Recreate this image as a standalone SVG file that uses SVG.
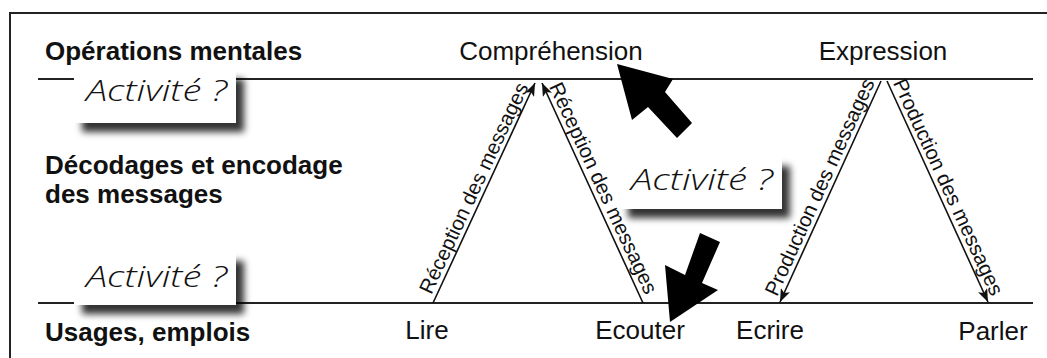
<svg xmlns="http://www.w3.org/2000/svg" width="1047" height="358" viewBox="0 0 1047 358">
<style>
.bold{font-family:"Liberation Sans",Arial,sans-serif;font-weight:bold;font-size:26px;fill:#111}
.term{font-family:"Liberation Sans",Arial,sans-serif;font-size:26px;fill:#111}
.lbl{font-family:"Liberation Sans",Arial,sans-serif;font-size:20.5px;fill:#111}
.hand{font-family:"Open Sans","DejaVu Sans",sans-serif;font-style:italic;font-weight:300;font-size:29px;fill:#111}
.rule{stroke:#222;stroke-width:2;fill:none}
.conn{stroke:#111;stroke-width:1.6;fill:none;marker-end:url(#ah)}
.box{fill:#fff;filter:url(#sh)}
.block{fill:#000}
</style>
<defs>
<marker id="ah" markerWidth="14" markerHeight="10" refX="13" refY="5" orient="auto" markerUnits="userSpaceOnUse">
<path d="M0,0 L13,5 L0,10 L3,5 z" fill="#111"/>
</marker>
<filter id="sh" x="-10%" y="-20%" width="130%" height="160%">
<feDropShadow dx="8" dy="9" stdDeviation="3.5" flood-color="#000" flood-opacity="0.8"/>
</filter>
</defs>
<rect x="10" y="13" width="1100" height="400" fill="none" stroke="#222" stroke-width="2"/>
<g id="rules">
<line class="rule" x1="38" y1="79" x2="1033" y2="79"/>
<line class="rule" x1="38" y1="303" x2="1033" y2="303"/>
</g>
<g id="row-labels">
<text class="bold" x="45" y="60">Opérations mentales</text>
<text class="bold" x="45" y="174">Décodages et encodage</text>
<text class="bold" x="45" y="203">des messages</text>
<text class="bold" x="45" y="341">Usages, emplois</text>
</g>
<g id="node-comprehension"><text class="term" x="551" y="60" text-anchor="middle">Compréhension</text></g>
<g id="node-expression"><text class="term" x="883" y="60" text-anchor="middle">Expression</text></g>
<g id="node-lire"><text class="term" x="427" y="339" text-anchor="middle">Lire</text></g>
<g id="node-ecouter"><text class="term" x="640" y="339" text-anchor="middle">Ecouter</text></g>
<g id="node-ecrire"><text class="term" x="770" y="339" text-anchor="middle">Ecrire</text></g>
<g id="node-parler"><text class="term" x="993" y="340" text-anchor="middle">Parler</text></g>
<g id="connectors">
<line class="conn" x1="433" y1="303" x2="535" y2="83"/>
<line class="conn" x1="643" y1="303" x2="542" y2="83"/>
<line class="conn" x1="881" y1="81" x2="780" y2="302"/>
<line class="conn" x1="887" y1="81" x2="988" y2="302"/>
<text class="lbl" text-anchor="middle" transform="translate(480,191) rotate(-64.9)">Réception des messages</text>
<text class="lbl" text-anchor="middle" transform="translate(597,191) rotate(65.2)">Réception des messages</text>
<text class="lbl" text-anchor="middle" transform="translate(826,190) rotate(-65.4)">Production des messages</text>
<text class="lbl" text-anchor="middle" transform="translate(942,190) rotate(65.3)">Production des messages</text>
</g>
<g id="big-arrows">
<polygon class="block" points="617,64 673,79 665,92 692,123 677,138 648,107 632,120"/>
<polygon class="block" points="670,322 665,265 685,275 700,233 720,242 702,283 718,290"/>
</g>
<g id="activite-1">
<rect class="box" x="74" y="70" width="162" height="53"/>
<text class="hand" x="86" y="101" textLength="141" lengthAdjust="spacingAndGlyphs">Activité ?</text>
</g>
<g id="activite-2">
<rect class="box" x="74" y="252" width="162" height="53"/>
<text class="hand" x="86" y="287" textLength="141" lengthAdjust="spacingAndGlyphs">Activité ?</text>
</g>
<g id="activite-3">
<rect class="box" x="620" y="157" width="162" height="52"/>
<text class="hand" x="631" y="190" textLength="142" lengthAdjust="spacingAndGlyphs">Activité ?</text>
</g>
</svg>
